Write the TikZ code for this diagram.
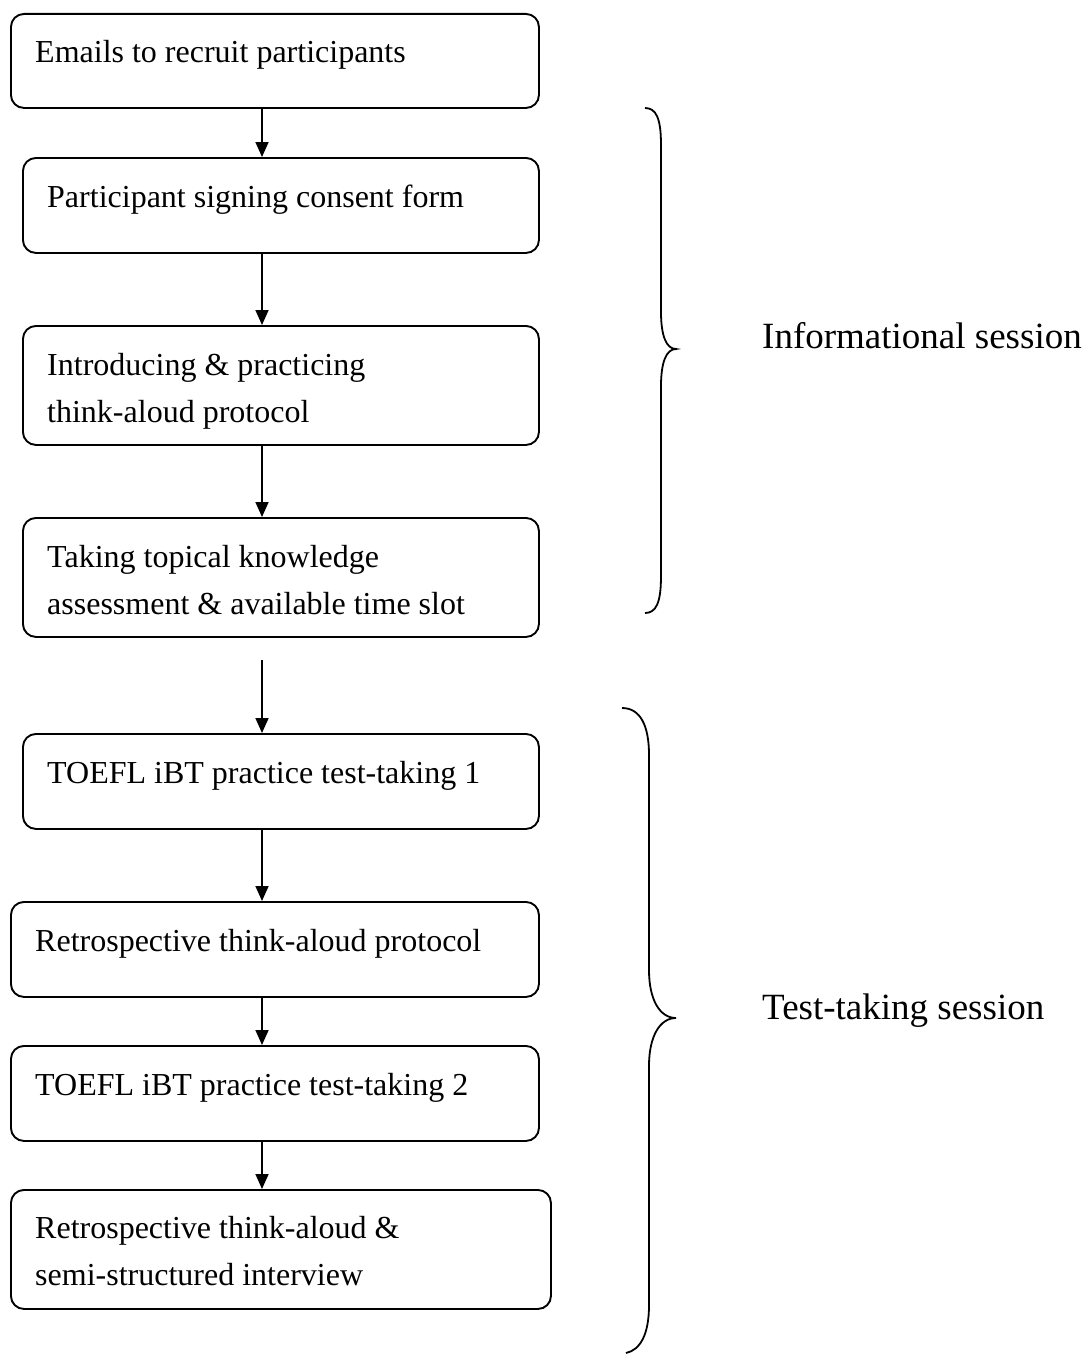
\documentclass[tikz,border=0pt]{standalone}
\usepackage{fontspec}
\setmainfont{Liberation Serif}
\usetikzlibrary{arrows.meta}
\begin{document}
\begin{tikzpicture}[x=1pt,y=-1pt,
  box/.style={draw,line width=1.9pt,rounded corners=13pt,inner sep=0pt,anchor=north west},
  txt/.style={inner sep=0pt,anchor=base west,align=left,font=\fontsize{32}{47}\selectfont},
  side/.style={inner sep=0pt,anchor=base west,font=\fontsize{37}{44}\selectfont},
  arr/.style={line width=1.7pt,-{Triangle[length=15pt,width=13pt]}},
  brace/.style={line width=1.8pt}]
\useasboundingbox (0,0) rectangle (1087,1354);
\coordinate (ax) at (262,0);
% boxes
\node[box,minimum width=528pt,minimum height=94pt] (b1) at (10,13) {};
\node[box,minimum width=516pt,minimum height=95pt] (b2) at (22,157) {};
\node[box,minimum width=516pt,minimum height=119pt] (b3) at (22,325) {};
\node[box,minimum width=516pt,minimum height=119pt] (b4) at (22,517) {};
\node[box,minimum width=516pt,minimum height=95pt] (b5) at (22,733) {};
\node[box,minimum width=528pt,minimum height=95pt] (b6) at (10,901) {};
\node[box,minimum width=528pt,minimum height=95pt] (b7) at (10,1045) {};
\node[box,minimum width=540pt,minimum height=119pt] (b8) at (10,1189) {};
% texts
\node[txt] (t1) at (35,63) {Emails to recruit participants};
\node[txt] (t2) at (47,207) {Participant signing consent form};
\node[txt] (t3a) at (47,375) {Introducing \& practicing};
\node[txt] (t3b) at (47,422) {think-aloud protocol};
\node[txt] (t4a) at (47,567) {Taking topical knowledge};
\node[txt] (t4b) at (47,614) {assessment \& available time slot};
\node[txt] (t5) at (47,783) {TOEFL iBT practice test-taking 1};
\node[txt] (t6) at (35,951) {Retrospective think-aloud protocol};
\node[txt] (t7) at (35,1095) {TOEFL iBT practice test-taking 2};
\node[txt] (t8a) at (35,1238) {Retrospective think-aloud \&};
\node[txt] (t8b) at (35,1285) {semi-structured interview};
% arrows
\coordinate (s4) at (262,660);
\draw[arr] (b1.south -| ax) -- (b2.north -| ax);
\draw[arr] (b2.south -| ax) -- (b3.north -| ax);
\draw[arr] (b3.south -| ax) -- (b4.north -| ax);
\draw[arr] (s4) -- (b5.north -| ax);
\draw[arr] (b5.south -| ax) -- (b6.north -| ax);
\draw[arr] (b6.south -| ax) -- (b7.north -| ax);
\draw[arr] (b7.south -| ax) -- (b8.north -| ax);
% braces
\draw[brace] (645,108) .. controls (656,108) and (661,118) .. (661,145) -- (661,312)
  .. controls (661,335) and (666,349) .. (676,349)
  .. controls (666,349) and (661,363) .. (661,386) -- (661,576)
  .. controls (661,603) and (656,613) .. (645,613);
\draw[brace] (622,708) .. controls (640,708) and (649,725) .. (649,755) -- (649,970)
  .. controls (649,1000) and (660,1018) .. (676,1018)
  .. controls (660,1018) and (649,1036) .. (649,1066) -- (649,1305)
  .. controls (649,1335) and (640,1350) .. (626,1353);
% side labels
\node[side] (l1) at (762,348) {Informational session};
\node[side] (l2) at (762,1019) {Test-taking session};
\end{tikzpicture}
\end{document}
